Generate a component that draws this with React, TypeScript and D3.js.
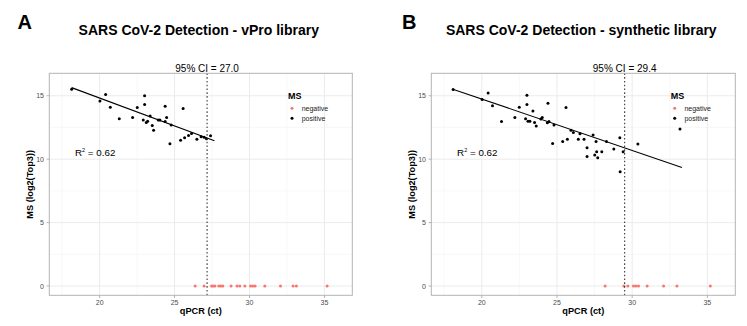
import React from "react";
import * as d3 from "d3";

const xTicks = [20, 25, 30, 35];
const xMinor = [17.5, 22.5, 27.5, 32.5];
const yTicks = [0, 5, 10, 15];
const yMinor = [2.5, 7.5, 12.5];
const xDomain: [number, number] = [16.64, 36.86];
const yDomain: [number, number] = [-0.73, 16.77];

const legendLabels = ["negative", "positive"];
const legendColors = ["#F8766D", "#000000"];

// Panel A – vPro library
const posA_ct = [18.13, 20.02, 20.4, 20.71, 21.31, 22.2, 22.51, 23.0, 23.0, 22.91, 23.11, 23.2, 23.37, 23.51, 23.6, 23.91, 24.02, 24.37, 24.47, 24.37, 24.77, 24.69, 25.57, 25.4, 25.67, 25.93, 26.13, 26.49, 26.77, 26.97, 27.13, 27.4];
const posA_ms = [15.52, 14.58, 15.1, 14.1, 13.18, 13.29, 14.08, 15.0, 14.32, 13.08, 12.9, 13.0, 13.4, 12.66, 12.29, 13.08, 13.08, 14.18, 13.29, 12.98, 12.69, 11.21, 14.0, 11.5, 11.69, 11.87, 12.03, 11.58, 11.77, 11.72, 11.61, 11.84];
const negA_ct = [26.37, 26.97, 27.47, 27.57, 27.69, 27.95, 28.09, 28.22, 28.77, 29.17, 29.35, 29.69, 30.07, 30.22, 30.37, 31.02, 32.07, 32.91, 33.13, 35.18];
const fitA_ct = [18.13, 27.66];
const fitA_ms = [15.64, 11.46];
const cutA = 27.17;
const ciLabelA = "95% CI = 27.0";
const titleA = "SARS CoV-2 Detection - vPro library";

// Panel B – synthetic library
const posB_ct = [18.09, 20.02, 20.42, 20.71, 21.31, 22.2, 22.49, 23.0, 23.0, 22.91, 23.07, 23.2, 23.4, 23.51, 23.62, 23.93, 24.02, 24.4, 24.47, 24.36, 24.8, 24.71, 25.6, 25.38, 25.69, 25.93, 26.09, 26.42, 26.53, 26.8, 27.4, 27.6, 27.0, 27.0, 27.51, 27.64, 27.71, 27.98, 28.29, 28.78, 29.18, 29.4, 30.38, 29.2, 33.18];
const posB_ms = [15.5, 14.71, 15.21, 14.21, 12.98, 13.29, 14.1, 15.03, 14.32, 13.18, 13.0, 13.0, 13.79, 12.9, 12.61, 13.16, 13.29, 14.4, 12.98, 12.87, 12.69, 11.24, 14.08, 11.4, 11.58, 12.29, 12.11, 11.58, 12.0, 11.58, 11.9, 11.4, 10.9, 10.22, 10.32, 10.58, 10.11, 10.58, 11.4, 10.8, 11.69, 10.58, 11.19, 9.0, 12.37];
const negB_ct = [28.2, 29.45, 29.71, 30.09, 30.24, 30.42, 31.0, 32.09, 32.98, 35.2];
const fitB_ct = [18.07, 33.31];
const fitB_ms = [15.52, 9.35];
const cutB = 29.5;
const ciLabelB = "95% CI = 29.4";
const titleB = "SARS CoV-2 Detection - synthetic library";

const r2Label = { x: 19.7, y: 10.55 };

const FONT = "Liberation Sans, Arial, Helvetica, sans-serif";

type PanelProps = {
  letter: string;
  letterX: number;
  title: string;
  x0: number;
  x1: number;
  posCt: number[];
  posMs: number[];
  negCt: number[];
  fitCt: number[];
  fitMs: number[];
  cut: number;
  ciLabel: string;
  legendX: number;
};

function Panel(p: PanelProps) {
  const top = 73.3;
  const bottom = 295.3;
  const x = d3.scaleLinear().domain(xDomain).range([p.x0, p.x1]);
  const y = d3.scaleLinear().domain(yDomain).range([bottom, top]);
  const line = d3
    .line<number>()
    .x((_, i) => x(p.fitCt[i]))
    .y((d) => y(d));
  const titleCx = (p.x0 + p.x1) / 2 - 2;
  return (
    <g fontFamily={FONT}>
      <text x={p.letterX} y={29.3} fontSize={20} fontWeight="bold" fill="#000">
        {p.letter}
      </text>
      <text x={titleCx} y={34.6} fontSize={14} fontWeight="bold" textAnchor="middle" fill="#000">
        {p.title}
      </text>
      {/* grid */}
      {xMinor.map((t) => (
        <line key={"xm" + t} x1={x(t)} x2={x(t)} y1={top} y2={bottom} stroke="#F4F4F4" strokeWidth={0.6} />
      ))}
      {yMinor.map((t) => (
        <line key={"ym" + t} x1={p.x0} x2={p.x1} y1={y(t)} y2={y(t)} stroke="#F4F4F4" strokeWidth={0.6} />
      ))}
      {xTicks.map((t) => (
        <line key={"xg" + t} x1={x(t)} x2={x(t)} y1={top} y2={bottom} stroke="#EBEBEB" strokeWidth={1} />
      ))}
      {yTicks.map((t) => (
        <line key={"yg" + t} x1={p.x0} x2={p.x1} y1={y(t)} y2={y(t)} stroke="#EBEBEB" strokeWidth={1} />
      ))}
      {/* points */}
      {p.negCt.map((c, i) => (
        <circle key={"n" + i} cx={x(c)} cy={y(0)} r={1.5} fill="#F8766D" />
      ))}
      {p.posCt.map((c, i) => (
        <circle key={"p" + i} cx={x(c)} cy={y(p.posMs[i])} r={1.5} fill="#000" />
      ))}
      {/* fit line */}
      <path d={line(p.fitMs) || ""} fill="none" stroke="#000" strokeWidth={1.1} />
      {/* cutoff */}
      <line x1={x(p.cut)} x2={x(p.cut)} y1={top} y2={bottom} stroke="#3a3a3a" strokeWidth={1.1} strokeDasharray="1.6,2.2" />
      <text x={x(p.cut)} y={72.3} fontSize={10} textAnchor="middle" fill="#000">
        {p.ciLabel}
      </text>
      {/* R2 */}
      <text x={x(r2Label.x)} y={y(r2Label.y) + 3.5} fontSize={9.8} textAnchor="middle" fill="#000">
        R<tspan fontSize={5.5} dy={-4}>2</tspan>
        <tspan dy={4}> = 0.62</tspan>
      </text>
      {/* border */}
      <rect x={p.x0} y={top} width={p.x1 - p.x0} height={bottom - top} fill="none" stroke="#B3B3B3" strokeWidth={1} />
      {/* axes ticks */}
      {xTicks.map((t) => (
        <g key={"xt" + t}>
          <line x1={x(t)} x2={x(t)} y1={bottom} y2={bottom + 2.7} stroke="#B3B3B3" />
          <text x={x(t)} y={304.6} fontSize={7} textAnchor="middle" fill="#4D4D4D">
            {t}
          </text>
        </g>
      ))}
      {yTicks.map((t) => (
        <g key={"yt" + t}>
          <line x1={p.x0 - 2.7} x2={p.x0} y1={y(t)} y2={y(t)} stroke="#B3B3B3" />
          <text x={p.x0 - 5.3} y={y(t) + 2.5} fontSize={7} textAnchor="end" fill="#4D4D4D">
            {t}
          </text>
        </g>
      ))}
      <text x={(p.x0 + p.x1) / 2} y={314} fontSize={9.2} fontWeight="bold" textAnchor="middle" fill="#000">
        qPCR (ct)
      </text>
      <text
        transform={`translate(${p.x0 - 16.5},${(top + bottom) / 2}) rotate(-90)`}
        fontSize={9.2}
        fontWeight="bold"
        textAnchor="middle"
        fill="#000"
      >
        MS (log2(Top3))
      </text>
      {/* legend */}
      <text x={p.legendX - 4} y={98.5} fontSize={9} fontWeight="bold" fill="#000">
        MS
      </text>
      {legendLabels.map((l, i) => (
        <g key={l}>
          <circle cx={p.legendX} cy={108.3 + i * 10} r={1.5} fill={legendColors[i]} />
          <text x={p.legendX + 9.7} y={110.6 + i * 10} fontSize={7} fill="#1a1a1a">
            {l}
          </text>
        </g>
      ))}
    </g>
  );
}

export default function App() {
  return (
    <svg
      width={747}
      height={326}
      style={{ position: "absolute", left: 0, top: 0, background: "#fff" }}
    >
      <rect width={747} height={326} fill="#fff" />
      <Panel
        letter="A"
        letterX={17.5}
        title={titleA}
        x0={49.3}
        x1={352.3}
        posCt={posA_ct}
        posMs={posA_ms}
        negCt={negA_ct}
        fitCt={fitA_ct}
        fitMs={fitA_ms}
        cut={cutA}
        ciLabel={ciLabelA}
        legendX={292}
      />
      <Panel
        letter="B"
        letterX={402}
        title={titleB}
        x0={431.3}
        x1={735.3}
        posCt={posB_ct}
        posMs={posB_ms}
        negCt={negB_ct}
        fitCt={fitB_ct}
        fitMs={fitB_ms}
        cut={cutB}
        ciLabel={ciLabelB}
        legendX={674.7}
      />
    </svg>
  );
}
